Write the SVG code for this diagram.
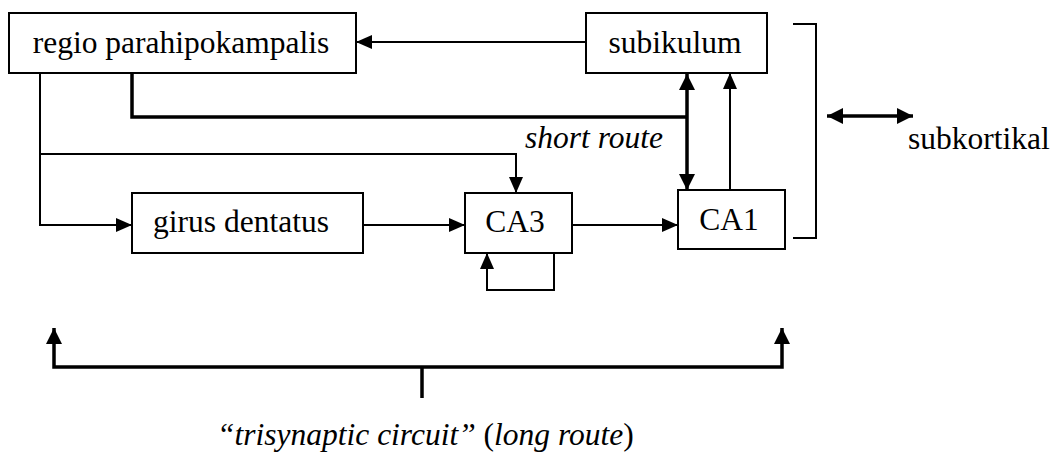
<svg xmlns="http://www.w3.org/2000/svg" width="1058" height="457" viewBox="0 0 1058 457" font-family="'Liberation Serif', 'Times New Roman', serif">
<style>
text{font-family:"Liberation Serif","Times New Roman",serif;font-size:31.5px;fill:#000}
.it{font-style:italic}
.box{fill:#fff;stroke:#000;stroke-width:2}
.thin{fill:none;stroke:#000;stroke-width:2}
.thick{fill:none;stroke:#000;stroke-width:3.5}
</style>
<defs>
<marker id="ah" markerUnits="userSpaceOnUse" markerWidth="16" markerHeight="14" refX="16" refY="7" orient="auto-start-reverse" viewBox="0 0 16 14"><path d="M0,0 L16,7 L0,14 z" fill="#000"/></marker>
<marker id="ahb" markerUnits="userSpaceOnUse" markerWidth="16" markerHeight="16" refX="16" refY="8" orient="auto-start-reverse" viewBox="0 0 16 16"><path d="M0,0 L16,8 L0,16 z" fill="#000"/></marker>
</defs>
<g id="connectors">
<path class="thin" d="M586,42 H356" marker-end="url(#ah)"/>
<path class="thick" d="M132,73 V117 H687"/>
<path class="thick" d="M687,74 V190" marker-start="url(#ahb)" marker-end="url(#ahb)"/>
<path class="thin" d="M730,190 V73" marker-end="url(#ah)"/>
<path class="thin" d="M40,73 V225 H132" marker-end="url(#ah)"/>
<path class="thin" d="M40,154 H516 V193" marker-end="url(#ah)"/>
<path class="thin" d="M363,225 H465" marker-end="url(#ah)"/>
<path class="thin" d="M572,225 H678" marker-end="url(#ah)"/>
<path class="thin" d="M554,253 V290 H487 V253" marker-end="url(#ah)"/>
<path class="thin" d="M793,24 H816 V238 H793"/>
<path class="thick" d="M827,116 H913" marker-start="url(#ahb)" marker-end="url(#ahb)"/>
<path class="thick" d="M54,328 V367 H782 V328" marker-start="url(#ahb)" marker-end="url(#ahb)"/>
<path class="thick" d="M422,367 V398"/>
</g>
<g id="regio"><rect class="box" x="9" y="13" width="347" height="60"/><text x="181" y="53" text-anchor="middle">regio parahipokampalis</text></g>
<g id="subikulum"><rect class="box" x="586" y="13" width="181" height="60"/><text x="675" y="53" text-anchor="middle">subikulum</text></g>
<g id="girus"><rect class="box" x="132" y="193" width="231" height="60"/><text x="241" y="232" text-anchor="middle">girus dentatus</text></g>
<g id="ca3"><rect class="box" x="465" y="193" width="107" height="60"/><text x="515" y="232" text-anchor="middle">CA3</text></g>
<g id="ca1"><rect class="box" x="678" y="190" width="107" height="59"/><text x="729" y="230" text-anchor="middle">CA1</text></g>
<g id="labels">
<text class="it" x="525" y="148">short route</text>
<text x="908" y="149">subkortikal</text>
<text x="217" y="445"><tspan class="it">“trisynaptic circuit”</tspan> (<tspan class="it">long route</tspan>)</text>
</g>
</svg>
